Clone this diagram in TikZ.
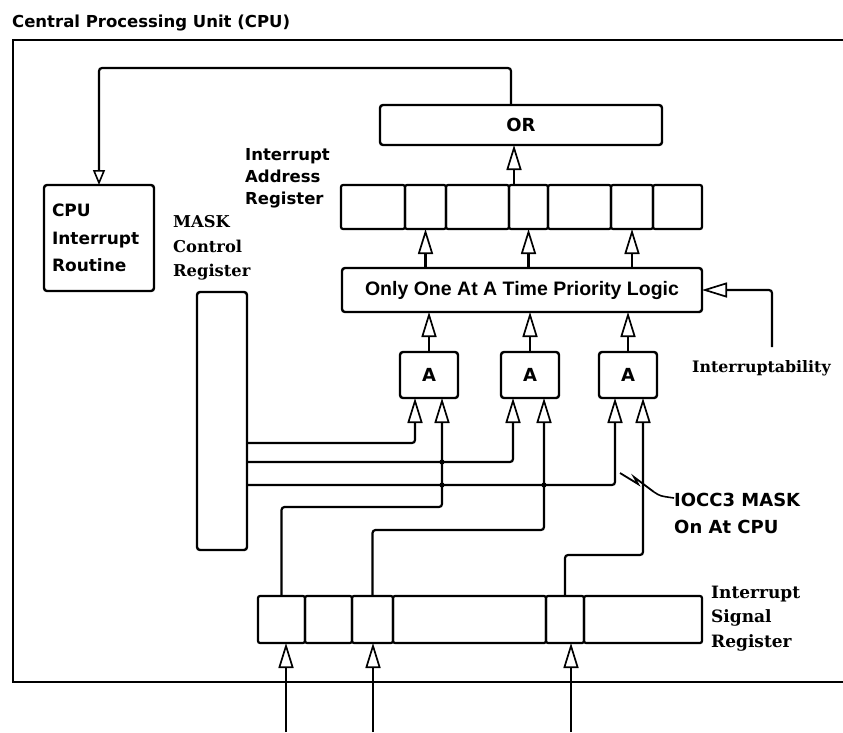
\documentclass[tikz,border=0pt]{standalone}
\usepackage{fontspec}
\setmainfont{Liberation Sans}
\newfontfamily\djs{DejaVu Sans}
\newfontfamily\djr{DejaVu Serif}
\usetikzlibrary{arrows.meta}
\begin{document}
\begin{tikzpicture}[x=1pt,y=-1pt,
  wire/.style={line width=2.2pt, rounded corners=3pt},
  arr/.style={wire,-{Triangle[length=25pt,width=15pt,fill=white,line width=1.7pt]}},
  sarr/.style={wire,-{Triangle[length=15pt,width=12pt,fill=white,line width=1.6pt]}},
  box/.style={draw,line width=2.4pt,rounded corners=3pt,inner sep=0pt,outer sep=0pt},
  cell/.style={draw,line width=2.2pt,rounded corners=2pt,inner sep=0pt,outer sep=0pt},
  sansb/.style={font=\djs\bfseries\fontsize{18}{21}\selectfont},
  lblsans/.style={anchor=base west,inner sep=0pt,font=\djs\bfseries\fontsize{16.5}{20}\selectfont},
  lblserif/.style={anchor=base west,inner sep=0pt,font=\djr\bfseries\fontsize{16.3}{20}\selectfont},
  dot/.style={fill=black}
]
\useasboundingbox (0,0) rectangle (843,732);

% title and frame
\node[anchor=base west,inner sep=0pt,font=\djs\bfseries\fontsize{16.5}{20}\selectfont] (title) at (12,27) {Central Processing Unit (CPU)};
\draw[line width=2.8pt] (843,40) -- (13,40) -- (13,682) -- (843,682);

% OR box
\node[box,sansb,minimum width=282pt,minimum height=40pt] (or) at (521,125) {OR};

% Interrupt address register cells
\foreach \a/\b [count=\i] in {341/405,405/446,446/509,509/548,548/611,611/653,653/702}
  \node[cell,minimum width={(\b-\a)*1pt},minimum height=44pt] (ar\i) at ({(\a+\b)/2},207) {};

% priority logic
\node[box,minimum width=360pt,minimum height=44pt,font=\bfseries\fontsize{19.5}{22}\selectfont] (pl) at (522,290) {Only One At A Time Priority Logic};

% AND gates
\node[box,sansb,minimum width=58pt,minimum height=46pt] (g1) at (429,375) {A};
\node[box,sansb,minimum width=58pt,minimum height=46pt] (g2) at (530,375) {A};
\node[box,sansb,minimum width=58pt,minimum height=46pt] (g3) at (628,375) {A};

% CPU interrupt routine
\node[box,minimum width=110pt,minimum height=106pt,align=left,text width=94pt,
      font=\djs\bfseries\fontsize{17}{27.5}\selectfont] (cpu) at (99,238) {CPU\\Interrupt\\Routine};

% MASK control register
\node[box,minimum width=50pt,minimum height=258pt] (mask) at (222,421) {};

% Interrupt signal register cells
\foreach \a/\b [count=\i] in {258/305,305/352,352/393,393/546,546/584,584/702}
  \node[cell,minimum width={(\b-\a)*1pt},minimum height=47pt] (sr\i) at ({(\a+\b)/2},619.5) {};

% labels
\node[lblsans] (ial1) at (245,160) {Interrupt};
\node[lblsans] (ial2) at (245,182) {Address};
\node[lblsans] (ial3) at (245,204) {Register};
\node[lblserif] (mcl1) at (173,227) {MASK};
\node[lblserif] (mcl2) at (173,252) {Control};
\node[lblserif] (mcl3) at (173,276) {Register};
\node[lblserif,font=\djr\bfseries\fontsize{15.8}{19}\selectfont] (intr) at (692,372) {Interruptability};
\node[lblserif,font=\djr\bfseries\fontsize{17}{20}\selectfont] (isl1) at (711,598) {Interrupt};
\node[lblserif,font=\djr\bfseries\fontsize{17}{20}\selectfont] (isl2) at (711,622) {Signal};
\node[lblserif,font=\djr\bfseries\fontsize{17}{20}\selectfont] (isl3) at (711,647) {Register};
\node[anchor=base west,inner sep=0pt,sansb] (iocc) at (674,506) {IOCC3 MASK};
\node[anchor=base west,inner sep=0pt,sansb] (onat) at (674,533) {On At CPU};

% feedback OR -> CPU routine
\draw[sarr] ([xshift=-10pt]or.north) -- ++(0,-37) -| (cpu.north);

% address register -> OR
\draw[arr] ([xshift=5pt]ar4.north west) -- ([xshift=5pt]ar4.north west |- or.south);

% priority logic -> address register
\draw[arr] (ar2.south |- pl.north) -- (ar2.south);
\draw[arr] (ar4.south |- pl.north) -- (ar4.south);
\draw[arr] (ar6.south |- pl.north) -- (ar6.south);

% gates -> priority logic
\draw[arr] (g1.north) -- (g1.north |- pl.south);
\draw[arr] (g2.north) -- (g2.north |- pl.south);
\draw[arr] (g3.north) -- (g3.north |- pl.south);

% gate input points
\coordinate (g1l) at ([xshift=-14pt]g1.south);
\coordinate (g1r) at ([xshift=13pt]g1.south);
\coordinate (g2l) at ([xshift=-17pt]g2.south);
\coordinate (g2r) at ([xshift=14pt]g2.south);
\coordinate (g3l) at ([xshift=-13pt]g3.south);
\coordinate (g3r) at ([xshift=15pt]g3.south);

% mask lines
\coordinate (m1) at (mask.east |- 0,443);
\coordinate (m2) at (mask.east |- 0,462);
\coordinate (m3) at (mask.east |- 0,485);
\draw[arr] (m1) -| (g1l);
\draw[arr] (m2) -| (g2l);
\draw[arr] (m3) -| (g3l);

% signal lines
\draw[arr] (sr1.north) -- ++(0,-89) -| (g1r);
\draw[arr] (sr3.north) -- ++(0,-66) -| (g2r);
\draw[arr] (sr5.north) -- ++(0,-41) -| (g3r);

% junction dots
\fill[dot] (g1r |- m2) circle (2.6pt);
\fill[dot] (g1r |- m3) circle (2.6pt);
\fill[dot] (g2r |- m3) circle (2.6pt);

% interruptability input
\coordinate (ib) at (772,347);
\draw[arr] (ib) |- (pl.east);

% external interrupt inputs
\coordinate (in1) at (286,732);
\coordinate (in2) at (373,732);
\coordinate (in3) at (571,732);
\draw[arr] (in1) -- (in1 |- sr1.south);
\draw[arr] (in2) -- (in2 |- sr3.south);
\draw[arr] (in3) -- (in3 |- sr5.south);

% IOCC3 mask break symbol and leader
\draw[line width=1.8pt,line join=miter] (620,473) -- (638,484) -- (634,477) -- (654,492);
\draw[line width=1.6pt] (654,492) .. controls (660,496) .. (iocc.west |- 0,498);
\end{tikzpicture}
\end{document}
